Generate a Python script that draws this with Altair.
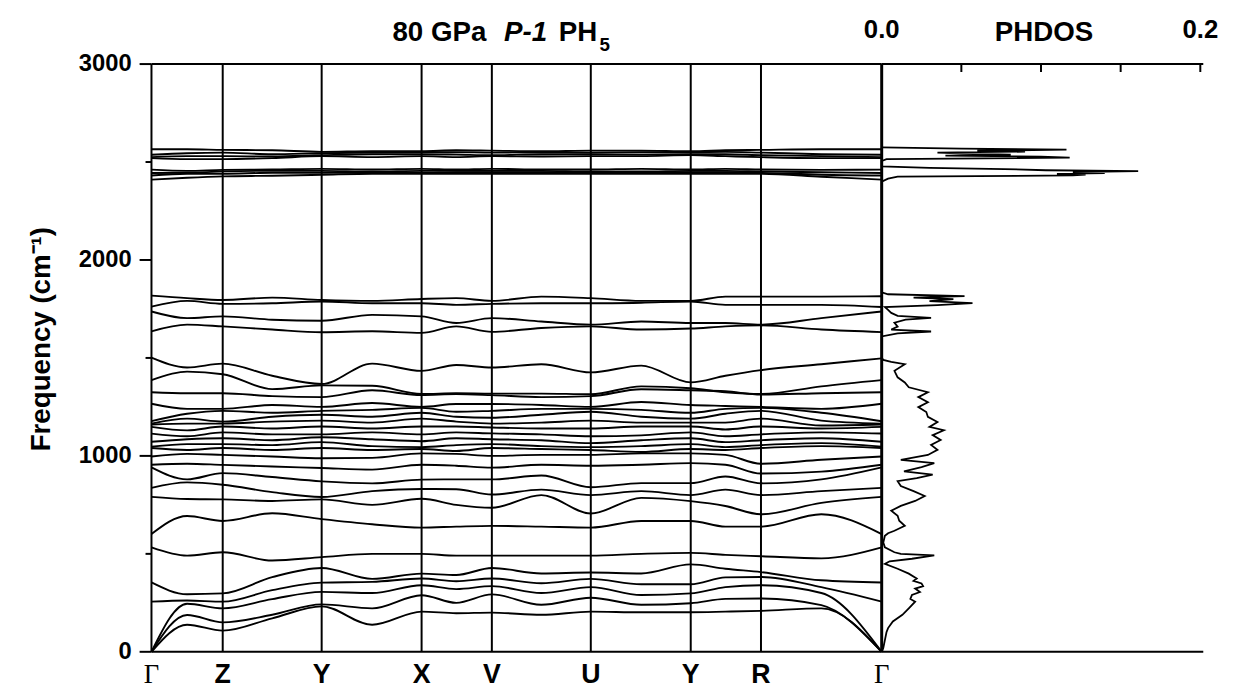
import altair as alt
import pandas as pd

# ---------------- k-path ----------------
kpoint_labels = ["Γ", "Z", "Y", "X", "V", "U", "Y", "R", "Γ"]
kpoint_pos = [0.0, 0.72, 1.72, 2.73, 3.44, 4.44, 5.45, 6.16, 7.38]
sample_pos = [0.0, 0.36, 0.72, 1.22, 1.72, 2.23, 2.73, 3.08, 3.44,
              3.94, 4.44, 4.95, 5.45, 5.80, 6.16, 6.77, 7.38]

# ---------------- phonon bands (cm-1) at sample_pos ----------------
band_a1 = [0, 138, 108, 171, 232, 138, 205, 197, 200, 189, 205, 202, 202, 205, 209, 222, 0]
band_a2 = [0, 188, 150, 189, 242, 222, 289, 250, 293, 240, 276, 240, 248, 270, 272, 238, 0]
band_a3 = [0, 245, 222, 269, 306, 300, 340, 320, 335, 300, 330, 290, 298, 330, 340, 300, 0]
band_l4 = [256, 262, 256, 315, 353, 357, 374, 360, 374, 350, 372, 345, 345, 380, 382, 330, 256]
band_l5 = [354, 294, 298, 381, 428, 372, 399, 392, 428, 400, 405, 400, 446, 424, 407, 365, 354]
band_l6 = [533, 491, 508, 466, 483, 500, 500, 491, 491, 491, 491, 500, 505, 495, 488, 477, 533]
band_l7 = [601, 693, 668, 707, 677, 651, 634, 639, 643, 639, 634, 668, 668, 639, 639, 702, 601]
band_c1 = [791, 780, 778, 770, 778, 750, 781, 750, 735, 800, 706, 786, 769, 744, 702, 760, 791]
band_c2 = [837, 865, 853, 815, 790, 820, 831, 830, 803, 828, 800, 820, 800, 828, 800, 820, 837]
band_c3 = [941, 880, 912, 892, 870, 860, 879, 880, 880, 900, 840, 861, 861, 895, 860, 880, 941]
band_c4 = [955, 960, 954, 946, 938, 930, 955, 950, 940, 955, 950, 955, 963, 955, 910, 920, 955]
band_c5 = [997, 1010, 1005, 997, 988, 990, 1013, 1010, 1000, 1005, 1005, 1013, 1013, 1005, 960, 980, 997]
band_b1 = [1040, 1030, 1040, 1030, 1040, 1030, 1035, 1025, 1040, 1035, 1030, 1020, 1035, 1030, 1040, 1050, 1040]
band_b2 = [1047, 1060, 1060, 1055, 1070, 1050, 1045, 1055, 1060, 1050, 1045, 1050, 1060, 1045, 1055, 1065, 1047]
band_b3 = [1072, 1085, 1090, 1080, 1095, 1085, 1075, 1090, 1085, 1080, 1065, 1080, 1090, 1070, 1080, 1090, 1072]
band_b4 = [1114, 1100, 1120, 1110, 1110, 1120, 1110, 1120, 1115, 1110, 1100, 1105, 1120, 1100, 1110, 1120, 1114]
band_b5 = [1148, 1130, 1150, 1140, 1150, 1140, 1150, 1150, 1145, 1140, 1140, 1150, 1150, 1135, 1150, 1140, 1148]
band_b6 = [1160, 1165, 1165, 1175, 1180, 1170, 1190, 1175, 1165, 1170, 1180, 1170, 1170, 1170, 1190, 1155, 1160]
band_b7 = [1165, 1190, 1175, 1200, 1210, 1200, 1220, 1200, 1195, 1210, 1225, 1200, 1190, 1215, 1230, 1180, 1165]
band_b8 = [1177, 1215, 1230, 1220, 1230, 1235, 1245, 1225, 1230, 1240, 1240, 1235, 1220, 1240, 1245, 1220, 1177]
band_b9 = [1266, 1240, 1240, 1260, 1250, 1270, 1250, 1265, 1265, 1260, 1250, 1275, 1260, 1255, 1250, 1240, 1266]
band_b10 = [1325, 1320, 1320, 1305, 1300, 1335, 1310, 1315, 1310, 1300, 1305, 1340, 1335, 1330, 1313, 1320, 1325]
band_b11 = [1387, 1430, 1417, 1341, 1360, 1358, 1316, 1320, 1318, 1318, 1315, 1355, 1345, 1325, 1316, 1355, 1387]
band_b12 = [1501, 1451, 1471, 1409, 1367, 1471, 1434, 1464, 1451, 1468, 1426, 1461, 1375, 1409, 1438, 1468, 1498]
band_u1 = [1636, 1670, 1661, 1645, 1631, 1636, 1628, 1661, 1633, 1653, 1661, 1645, 1650, 1661, 1666, 1645, 1632]
band_u2 = [1737, 1703, 1712, 1695, 1690, 1720, 1712, 1678, 1703, 1686, 1670, 1686, 1678, 1678, 1670, 1703, 1737]
band_u3 = [1762, 1791, 1776, 1779, 1788, 1779, 1779, 1771, 1776, 1779, 1779, 1782, 1788, 1771, 1771, 1771, 1760]
band_u4 = [1818, 1805, 1796, 1808, 1796, 1791, 1801, 1805, 1791, 1813, 1805, 1791, 1791, 1813, 1813, 1813, 1815]
band_h1 = [2410, 2420, 2427, 2430, 2435, 2440, 2440, 2440, 2440, 2440, 2440, 2440, 2440, 2440, 2440, 2425, 2410]
band_h2 = [2431, 2440, 2440, 2445, 2445, 2445, 2445, 2448, 2448, 2448, 2445, 2445, 2448, 2448, 2445, 2435, 2431]
band_h3 = [2444, 2445, 2452, 2455, 2455, 2452, 2455, 2455, 2455, 2455, 2452, 2452, 2455, 2455, 2452, 2448, 2444]
band_h4 = [2461, 2455, 2460, 2462, 2465, 2462, 2465, 2462, 2465, 2462, 2462, 2465, 2462, 2465, 2462, 2460, 2461]
band_h5 = [2520, 2515, 2515, 2520, 2530, 2525, 2530, 2525, 2530, 2528, 2530, 2530, 2535, 2530, 2525, 2520, 2520]
band_h6 = [2525, 2530, 2530, 2528, 2535, 2540, 2540, 2538, 2535, 2540, 2540, 2538, 2540, 2540, 2535, 2530, 2525]
band_h7 = [2537, 2545, 2548, 2540, 2545, 2548, 2550, 2550, 2548, 2550, 2548, 2550, 2550, 2552, 2548, 2540, 2537]
band_h8 = [2565, 2565, 2562, 2560, 2552, 2555, 2555, 2560, 2558, 2555, 2558, 2558, 2555, 2560, 2562, 2565, 2565]

all_bands = [band_a1, band_a2, band_a3, band_l4, band_l5, band_l6, band_l7,
             band_c1, band_c2, band_c3, band_c4, band_c5,
             band_b1, band_b2, band_b3, band_b4, band_b5, band_b6, band_b7, band_b8,
             band_b9, band_b10, band_b11, band_b12,
             band_u1, band_u2, band_u3, band_u4,
             band_h1, band_h2, band_h3, band_h4, band_h5, band_h6, band_h7, band_h8]

# ---------------- phonon DOS ----------------
dos_freq = [0, 20, 60, 100, 121, 155, 189, 222, 256, 270, 290, 305, 323, 335, 349, 362, 374,
            399, 424, 449, 462, 475, 492, 500, 508, 533, 558, 592, 605, 618, 643, 669, 694,
            720, 745, 770, 795, 820, 846, 871, 887, 904, 921, 943, 963, 980, 1005, 1031,
            1056, 1081, 1106, 1131, 1148, 1173, 1199, 1224, 1249, 1274, 1300, 1325, 1350,
            1375, 1401, 1434, 1468, 1480, 1490, 1500,
            1610, 1625, 1635, 1645, 1660, 1680, 1695, 1705, 1715, 1730, 1745, 1760, 1770,
            1780, 1790, 1800, 1808, 1815, 1825, 1835,
            2400, 2415, 2425, 2432, 2436, 2440, 2444, 2448, 2453, 2458, 2464, 2470, 2478,
            2505, 2515, 2522, 2528, 2533, 2538, 2543, 2548, 2553, 2558, 2563, 2568, 2575]
dos_value = [0, 0.001, 0.002, 0.003, 0.004, 0.007, 0.013, 0.017, 0.021, 0.018, 0.019, 0.024,
             0.021, 0.026, 0.025, 0.020, 0.022, 0.017, 0.010, 0.002, 0.005, 0.019, 0.033,
             0.012, 0.008, 0.002, 0.001, 0.002, 0.004, 0.008, 0.0145, 0.011, 0.010, 0.006,
             0.012, 0.021, 0.027, 0.020, 0.012, 0.010, 0.022, 0.032, 0.014, 0.025, 0.033,
             0.012, 0.029, 0.035, 0.031, 0.037, 0.032, 0.039, 0.030, 0.035, 0.029, 0.028,
             0.023, 0.029, 0.023, 0.029, 0.017, 0.0145, 0.010, 0.008, 0.0145, 0.006, 0.001, 0,
             0, 0.010, 0.031, 0.006, 0.010, 0.008, 0.015, 0.031, 0.010, 0.006, 0.004, 0.002,
             0.035, 0.057, 0.030, 0.045, 0.020, 0.052, 0.004, 0,
             0, 0.004, 0.010, 0.12, 0.128, 0.11, 0.14, 0.12, 0.161, 0.103, 0.077, 0.03, 0,
             0, 0.003, 0.118, 0.10, 0.04, 0.081, 0.05, 0.035, 0.09, 0.06, 0.116, 0.05, 0]

y_major = [0, 1000, 2000, 3000]
y_major_text = ["0", "1000", "2000", "3000"]
y_minor = [500, 1500, 2500]
dos_tick_vals = [0.05, 0.1, 0.15, 0.2]
dos_label_vals = [0.0, 0.2]
dos_label_text = ["0.0", "0.2"]

# ---------------- tables ----------------
rows = []
for i, b in enumerate(all_bands):
    for k, f in zip(sample_pos, b):
        rows.append({"band": i, "k": k, "freq": f})
band_df = pd.DataFrame(rows)
kp_df = pd.DataFrame({"k": kpoint_pos, "label": kpoint_labels})
inner_df = kp_df.iloc[1:-1]
end_df = kp_df.iloc[-1:]
gamma_df = kp_df[kp_df["label"] == "Γ"]
letter_df = kp_df[kp_df["label"] != "Γ"]
dos_df = pd.DataFrame({"freq": dos_freq, "dos": dos_value})
major_df = pd.DataFrame({"freq": y_major, "txt": y_major_text})
minor_df = pd.DataFrame({"freq": y_minor})
dostick_df = pd.DataFrame({"dos": dos_tick_vals})
doslab_df = pd.DataFrame({"dos": dos_label_vals, "txt": dos_label_text})
one = pd.DataFrame({"a": [0]})

W1, W2, H = 738, 322, 594
SANS = "Liberation Sans"
NOVIEW = alt.ViewBackground(stroke="transparent", strokeWidth=0)

xs = alt.Scale(domain=[0, 7.38], nice=False, zero=False)
ys = alt.Scale(domain=[0, 3000], nice=False)

vlines = alt.Chart(inner_df).mark_rule(color="black", strokeWidth=2).encode(
    x=alt.X("k:Q", scale=xs, axis=None))
gline = alt.Chart(end_df).mark_rule(color="black", strokeWidth=3).encode(
    x=alt.X("k:Q", scale=xs, axis=None))

bands_layer = alt.Chart(band_df).mark_line(
    color="black", strokeWidth=1.9, interpolate="monotone").encode(
    x=alt.X("k:Q", scale=xs, axis=None),
    y=alt.Y("freq:Q", scale=ys, axis=None),
    detail="band:N")

# hand-built frequency axis
y_domain = alt.Chart(one).mark_rule(color="black", strokeWidth=2).encode(
    x=alt.value(0), y=alt.value(0), y2=alt.value(H))
major_ticks = alt.Chart(major_df).mark_rule(color="black", strokeWidth=2).encode(
    y=alt.Y("freq:Q", scale=ys, axis=None), x=alt.value(-12), x2=alt.value(0))
minor_ticks = alt.Chart(minor_df).mark_rule(color="black", strokeWidth=2).encode(
    y=alt.Y("freq:Q", scale=ys, axis=None), x=alt.value(-6), x2=alt.value(0))
major_labels = alt.Chart(major_df).mark_text(
    font=SANS, fontWeight="bold", fontSize=24, color="black", align="right",
    baseline="middle").encode(
    y=alt.Y("freq:Q", scale=ys, axis=None), x=alt.value(-20), text="txt:N")
y_title = alt.Chart(one).mark_text(
    text="Frequency (cm⁻¹)", font=SANS, fontWeight="bold", fontSize=28, color="black",
    angle=270, align="center", baseline="alphabetic").encode(
    x=alt.value(-103), y=alt.value(278))

top_border = alt.Chart(one).mark_rule(color="black", strokeWidth=2).encode(
    x=alt.value(0), x2=alt.value(W1), y=alt.value(0))
bot_border = alt.Chart(one).mark_rule(color="black", strokeWidth=2).encode(
    x=alt.value(0), x2=alt.value(W1), y=alt.value(H))

letters = alt.Chart(letter_df).mark_text(
    font=SANS, fontWeight="bold", fontSize=27, color="black", baseline="alphabetic").encode(
    x=alt.X("k:Q", scale=xs, axis=None), y=alt.value(626), text="label:N")
gammas = alt.Chart(gamma_df).mark_text(
    font="Liberation Serif", fontSize=27, color="black", baseline="alphabetic").encode(
    x=alt.X("k:Q", scale=xs, axis=None), y=alt.value(626), text="label:N")

t1 = alt.Chart(one).mark_text(text="80 GPa", font=SANS, fontWeight="bold", fontSize=28,
                              color="black", baseline="alphabetic").encode(
    x=alt.value(291), y=alt.value(-23))
t2 = alt.Chart(one).mark_text(text="P-1", font=SANS, fontWeight="bold", fontStyle="italic",
                              fontSize=28, color="black", baseline="alphabetic").encode(
    x=alt.value(378), y=alt.value(-23))
t3 = alt.Chart(one).mark_text(text="PH", font=SANS, fontWeight="bold", fontSize=28,
                              color="black", baseline="alphabetic").encode(
    x=alt.value(431), y=alt.value(-23))
t4 = alt.Chart(one).mark_text(text="5", font=SANS, fontWeight="bold", fontSize=19,
                              color="black", baseline="alphabetic").encode(
    x=alt.value(458), y=alt.value(-13))

# invisible (white) anchor fixing the top-left corner of the layout
anchor = alt.Chart(one).mark_rule(color="white", strokeWidth=1).encode(
    x=alt.value(-144), x2=alt.value(-143), y=alt.value(-52), y2=alt.value(-52))

left = alt.layer(vlines, gline, bands_layer, y_domain, major_ticks, minor_ticks,
                 major_labels, y_title, top_border, bot_border,
                 letters, gammas, t1, t2, t3, t4, anchor).properties(
    width=W1, height=H, view=NOVIEW)

dxs = alt.Scale(domain=[0, 0.2], nice=False, zero=True)
dos_line = alt.Chart(dos_df).mark_line(color="black", strokeWidth=1.8).encode(
    x=alt.X("dos:Q", scale=dxs, axis=None),
    y=alt.Y("freq:Q", scale=ys, axis=None),
    order=alt.Order("freq:Q"))
dos_ticks = alt.Chart(dostick_df).mark_rule(color="black", strokeWidth=2).encode(
    x=alt.X("dos:Q", scale=dxs, axis=None), y=alt.value(0), y2=alt.value(8))
dos_labels = alt.Chart(doslab_df).mark_text(
    font=SANS, fontWeight="bold", fontSize=26, color="black", baseline="alphabetic").encode(
    x=alt.X("dos:Q", scale=dxs, axis=None), y=alt.value(-26), text="txt:N")
phdos = alt.Chart(one).mark_text(text="PHDOS", font=SANS, fontWeight="bold", fontSize=28,
                                 color="black", baseline="alphabetic").encode(
    x=alt.value(164), y=alt.value(-23))
dos_top = alt.Chart(one).mark_rule(color="black", strokeWidth=2).encode(
    x=alt.value(0), x2=alt.value(W2 + 3), y=alt.value(0))
dos_bottom = alt.Chart(one).mark_rule(color="black", strokeWidth=2).encode(
    x=alt.value(0), x2=alt.value(W2 + 3), y=alt.value(H))

right = alt.layer(dos_line, dos_ticks, dos_labels, phdos, dos_top, dos_bottom).properties(
    width=W2, height=H, view=NOVIEW)

chart = alt.hconcat(left, right, spacing=0, bounds="flush").properties(
    padding={"left": 0, "top": 0, "right": 10, "bottom": 4},
    background="white"
).configure_view(stroke="transparent", strokeWidth=0).configure_axis(grid=False)

chart.save("out.html", embed_options={"renderer": "svg", "actions": False})
